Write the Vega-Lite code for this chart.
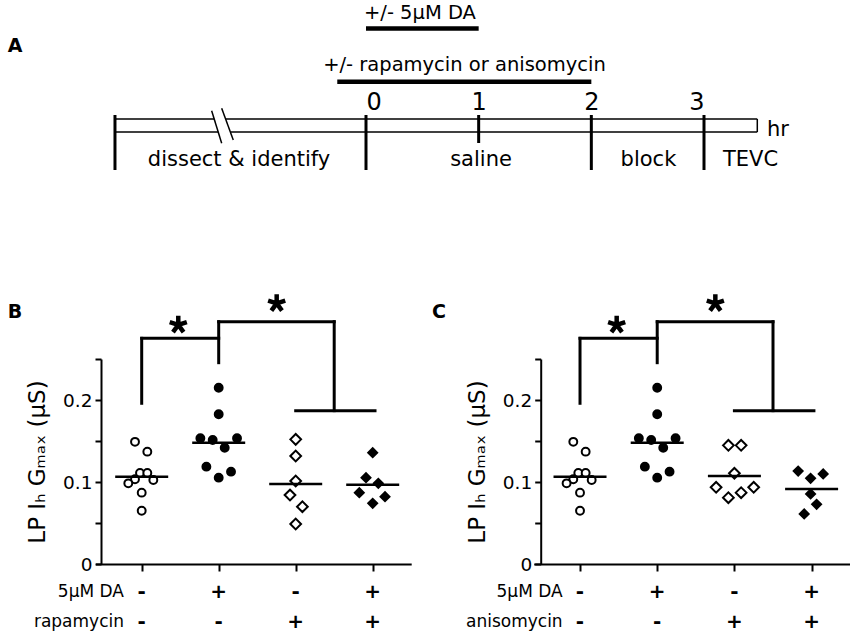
{
  "$schema": "https://vega.github.io/schema/vega-lite/v6.json",
  "width": 850,
  "height": 632,
  "padding": 0,
  "autosize": {"type": "none"},
  "background": "white",
  "config": {
    "view": {"stroke": null},
    "font": "DejaVu Sans",
    "axis": {"domainColor": "black", "tickColor": "black", "labelColor": "black", "titleColor": "black", "grid": false, "labelFont": "DejaVu Sans", "titleFont": "DejaVu Sans", "domainWidth": 2, "tickWidth": 2}
  },
  "datasets": {
    "tl": [
      {"h1": -2.228, "h2": -1.347, "u1": 0, "u2": 0},
      {"h1": -1.246, "h2": 3.473, "u1": 0, "u2": 0},
      {"h1": -2.228, "h2": -1.312, "u1": 1, "u2": 1},
      {"h1": -1.204, "h2": 3.473, "u1": 1, "u2": 1},
      {"h1": 3.473, "h2": 3.473, "u1": 0, "u2": 1},
      {"h1": -1.37, "h2": -1.281, "u1": -0.638, "u2": 1.869},
      {"h1": -1.281, "h2": -1.178, "u1": -0.823, "u2": 1.615}
    ],
    "ticksA": [
      {"h": -2.228, "u1": -0.308, "u2": 3.923},
      {"h": 0, "u1": -0.308, "u2": 3.923},
      {"h": 1, "u1": -0.308, "u2": 1.846},
      {"h": 2, "u1": -0.308, "u2": 3.923},
      {"h": 3, "u1": -0.308, "u2": 3.923}
    ],
    "barsA": [
      {"h1": 0, "h2": 1, "u": -6.96},
      {"h1": -0.255, "h2": 2.0, "u": -2.87}
    ],
    "treat": [
      {"h": 0.479, "u": -7.73, "t": "+/- 5μM DA"},
      {"h": 0.874, "u": -3.715, "t": "+/- rapamycin or anisomycin"}
    ],
    "phase": [
      {"h": -1.127, "t": "dissect & identify"},
      {"h": 1.021, "t": "saline"},
      {"h": 2.507, "t": "block"},
      {"h": 3.413, "t": "TEVC"}
    ],
    "pts": [
      {"panel": "B", "group": 1, "pos": 0.913, "v": 0.149},
      {"panel": "B", "group": 1, "pos": 1.073, "v": 0.137},
      {"panel": "B", "group": 1, "pos": 0.978, "v": 0.111},
      {"panel": "B", "group": 1, "pos": 1.073, "v": 0.111},
      {"panel": "B", "group": 1, "pos": 0.913, "v": 0.1033},
      {"panel": "B", "group": 1, "pos": 1.151, "v": 0.1024},
      {"panel": "B", "group": 1, "pos": 0.826, "v": 0.0984},
      {"panel": "B", "group": 1, "pos": 1.0, "v": 0.087},
      {"panel": "B", "group": 1, "pos": 1.0, "v": 0.065},
      {"panel": "B", "group": 2, "pos": 2.0, "v": 0.215},
      {"panel": "B", "group": 2, "pos": 2.0, "v": 0.1826},
      {"panel": "B", "group": 2, "pos": 1.762, "v": 0.1533},
      {"panel": "B", "group": 2, "pos": 1.922, "v": 0.1512},
      {"panel": "B", "group": 2, "pos": 2.238, "v": 0.1533},
      {"panel": "B", "group": 2, "pos": 2.078, "v": 0.1418},
      {"panel": "B", "group": 2, "pos": 1.84, "v": 0.1187},
      {"panel": "B", "group": 2, "pos": 2.16, "v": 0.1126},
      {"panel": "B", "group": 2, "pos": 2.0, "v": 0.1053},
      {"panel": "B", "group": 3, "pos": 3.0, "v": 0.152},
      {"panel": "B", "group": 3, "pos": 3.0, "v": 0.1317},
      {"panel": "B", "group": 3, "pos": 3.0, "v": 0.1012},
      {"panel": "B", "group": 3, "pos": 2.926, "v": 0.0841},
      {"panel": "B", "group": 3, "pos": 3.087, "v": 0.0699},
      {"panel": "B", "group": 3, "pos": 3.0, "v": 0.0488},
      {"panel": "B", "group": 4, "pos": 4.0, "v": 0.1358},
      {"panel": "B", "group": 4, "pos": 3.913, "v": 0.1053},
      {"panel": "B", "group": 4, "pos": 4.073, "v": 0.0984},
      {"panel": "B", "group": 4, "pos": 3.826, "v": 0.087},
      {"panel": "B", "group": 4, "pos": 4.16, "v": 0.0821},
      {"panel": "B", "group": 4, "pos": 4.0, "v": 0.074},
      {"panel": "C", "group": 1, "pos": 0.913, "v": 0.149},
      {"panel": "C", "group": 1, "pos": 1.073, "v": 0.137},
      {"panel": "C", "group": 1, "pos": 0.978, "v": 0.111},
      {"panel": "C", "group": 1, "pos": 1.073, "v": 0.111},
      {"panel": "C", "group": 1, "pos": 0.913, "v": 0.1033},
      {"panel": "C", "group": 1, "pos": 1.151, "v": 0.1024},
      {"panel": "C", "group": 1, "pos": 0.826, "v": 0.0984},
      {"panel": "C", "group": 1, "pos": 1.0, "v": 0.087},
      {"panel": "C", "group": 1, "pos": 1.0, "v": 0.065},
      {"panel": "C", "group": 2, "pos": 2.0, "v": 0.215},
      {"panel": "C", "group": 2, "pos": 2.0, "v": 0.1826},
      {"panel": "C", "group": 2, "pos": 1.762, "v": 0.1533},
      {"panel": "C", "group": 2, "pos": 1.922, "v": 0.1512},
      {"panel": "C", "group": 2, "pos": 2.238, "v": 0.1533},
      {"panel": "C", "group": 2, "pos": 2.078, "v": 0.1418},
      {"panel": "C", "group": 2, "pos": 1.84, "v": 0.1187},
      {"panel": "C", "group": 2, "pos": 2.16, "v": 0.1126},
      {"panel": "C", "group": 2, "pos": 2.0, "v": 0.1053},
      {"panel": "C", "group": 3, "pos": 2.922, "v": 0.1447},
      {"panel": "C", "group": 3, "pos": 3.087, "v": 0.1447},
      {"panel": "C", "group": 3, "pos": 3.0, "v": 0.1106},
      {"panel": "C", "group": 3, "pos": 2.763, "v": 0.0935},
      {"panel": "C", "group": 3, "pos": 3.25, "v": 0.0935},
      {"panel": "C", "group": 3, "pos": 2.922, "v": 0.0809},
      {"panel": "C", "group": 3, "pos": 3.087, "v": 0.087},
      {"panel": "C", "group": 4, "pos": 3.826, "v": 0.1134},
      {"panel": "C", "group": 4, "pos": 3.987, "v": 0.1045},
      {"panel": "C", "group": 4, "pos": 4.15, "v": 0.1098},
      {"panel": "C", "group": 4, "pos": 3.987, "v": 0.0854},
      {"panel": "C", "group": 4, "pos": 4.065, "v": 0.0728},
      {"panel": "C", "group": 4, "pos": 3.904, "v": 0.061}
    ],
    "meds": [
      {"panel": "B", "group": 1, "med": 0.1065},
      {"panel": "B", "group": 2, "med": 0.148},
      {"panel": "B", "group": 3, "med": 0.0976},
      {"panel": "B", "group": 4, "med": 0.0967},
      {"panel": "C", "group": 1, "med": 0.1065},
      {"panel": "C", "group": 2, "med": 0.148},
      {"panel": "C", "group": 3, "med": 0.1073},
      {"panel": "C", "group": 4, "med": 0.0915}
    ],
    "brk": [
      {"x1": 1, "x2": 1, "y1": 0.196, "y2": 0.2752},
      {"x1": 1, "x2": 2, "y1": 0.2752, "y2": 0.2752},
      {"x1": 2, "x2": 2, "y1": 0.2455, "y2": 0.2955},
      {"x1": 2, "x2": 3.5, "y1": 0.2955, "y2": 0.2955},
      {"x1": 3.5, "x2": 3.5, "y1": 0.2955, "y2": 0.187},
      {"x1": 3.0, "x2": 4.03, "y1": 0.187, "y2": 0.187}
    ],
    "stars": [
      {"pos": 1.475, "v": 0.2917},
      {"pos": 2.753, "v": 0.3179}
    ],
    "conds": [
      {"group": 1, "da": "-", "drug": "-"},
      {"group": 2, "da": "+", "drug": "-"},
      {"group": 3, "da": "-", "drug": "+"},
      {"group": 4, "da": "+", "drug": "+"}
    ],
    "rowlab": [
      {"panel": "B", "row": 1, "t": "5μM DA"},
      {"panel": "B", "row": 2, "t": "rapamycin"},
      {"panel": "C", "row": 1, "t": "5μM DA"},
      {"panel": "C", "row": 2, "t": "anisomycin"}
    ],
    "letters": [
      {"panel": "A", "t": "A"},
      {"panel": "B", "t": "B"},
      {"panel": "C", "t": "C"}
    ]
  },
  "resolve": {
    "scale": {"x": "independent", "y": "independent"},
    "axis": {"x": "independent", "y": "independent"}
  },
  "layer": [
    {
      "data": {"name": "tl"},
      "mark": {"type": "rule", "color": "black", "strokeWidth": 1.5},
      "encoding": {
        "x": {"field": "h1", "type": "quantitative", "scale": {"domain": [0, 3], "range": [366, 704], "nice": false, "zero": false},
          "axis": {"orient": "top", "offset": -119, "values": [0, 1, 2, 3], "domain": false, "ticks": false, "tickSize": 0, "labelPadding": 9.7, "labelBaseline": "alphabetic", "labelFontSize": 24, "labelAngle": 0, "format": "d", "title": null, "grid": false}},
        "x2": {"field": "h2"},
        "y": {"field": "u1", "type": "quantitative", "scale": {"domain": [0, 1], "range": [119, 132], "nice": false, "zero": false}, "axis": null},
        "y2": {"field": "u2"}
      }
    },
    {
      "data": {"name": "ticksA"},
      "mark": {"type": "rule", "color": "black", "strokeWidth": 3},
      "encoding": {
        "x": {"field": "h", "type": "quantitative", "scale": {"domain": [0, 3], "range": [366, 704], "nice": false, "zero": false}, "axis": null},
        "y": {"field": "u1", "type": "quantitative", "scale": {"domain": [0, 1], "range": [119, 132], "nice": false, "zero": false}, "axis": null},
        "y2": {"field": "u2"}
      }
    },
    {
      "data": {"name": "barsA"},
      "mark": {"type": "rule", "color": "black", "strokeWidth": 4.5},
      "encoding": {
        "x": {"field": "h1", "type": "quantitative", "scale": {"domain": [0, 3], "range": [366, 704], "nice": false, "zero": false}, "axis": null},
        "x2": {"field": "h2"},
        "y": {"field": "u", "type": "quantitative", "scale": {"domain": [0, 1], "range": [119, 132], "nice": false, "zero": false}, "axis": null}
      }
    },
    {
      "data": {"name": "treat"},
      "mark": {"type": "text", "font": "DejaVu Sans", "fontSize": 19.5, "align": "center", "baseline": "alphabetic", "color": "black"},
      "encoding": {
        "x": {"field": "h", "type": "quantitative", "scale": {"domain": [0, 3], "range": [366, 704], "nice": false, "zero": false}, "axis": null},
        "y": {"field": "u", "type": "quantitative", "scale": {"domain": [0, 1], "range": [119, 132], "nice": false, "zero": false}, "axis": null},
        "text": {"field": "t"}
      }
    },
    {
      "data": {"name": "phase"},
      "mark": {"type": "text", "font": "DejaVu Sans", "fontSize": 21, "align": "center", "baseline": "alphabetic", "color": "black"},
      "encoding": {
        "x": {"field": "h", "type": "quantitative", "scale": {"domain": [0, 3], "range": [366, 704], "nice": false, "zero": false}, "axis": null},
        "y": {"datum": 3.615, "type": "quantitative", "scale": {"domain": [0, 1], "range": [119, 132], "nice": false, "zero": false}, "axis": null},
        "text": {"field": "t"}
      }
    },
    {
      "data": {"values": [{"t": "hr"}]},
      "mark": {"type": "text", "font": "DejaVu Sans", "fontSize": 21, "align": "left", "baseline": "alphabetic", "color": "black"},
      "encoding": {
        "x": {"datum": 3.559, "type": "quantitative", "scale": {"domain": [0, 3], "range": [366, 704], "nice": false, "zero": false}, "axis": null},
        "y": {"datum": 1.308, "type": "quantitative", "scale": {"domain": [0, 1], "range": [119, 132], "nice": false, "zero": false}, "axis": null},
        "text": {"field": "t"}
      }
    },
    {
      "data": {"name": "letters"},
      "transform": [{"filter": "datum.panel == 'A'"}],
      "mark": {"type": "text", "font": "DejaVu Sans", "fontSize": 19, "fontWeight": "bold", "align": "center", "baseline": "alphabetic", "color": "black"},
      "encoding": {
        "x": {"datum": -3.115, "type": "quantitative", "scale": {"domain": [0, 3], "range": [366, 704], "nice": false, "zero": false}, "axis": null},
        "y": {"datum": -5.154, "type": "quantitative", "scale": {"domain": [0, 1], "range": [119, 132], "nice": false, "zero": false}, "axis": null},
        "text": {"field": "t"}
      }
    },
    {
      "data": {"name": "pts"},
      "transform": [{"filter": "datum.panel == 'B'"}],
      "mark": {"type": "point", "filled": true, "stroke": "black", "strokeWidth": 2, "opacity": 1},
      "encoding": {
        "x": {"field": "pos", "type": "quantitative", "scale": {"domain": [0.4, 4.5], "range": [95.5, 411.2], "nice": false, "zero": false},
          "axis": {"orient": "bottom", "offset": -68, "values": [1, 2, 3, 4], "labels": false, "tickSize": 7, "tickWidth": 2, "domainWidth": 2, "title": null, "grid": false}},
        "y": {"field": "v", "type": "quantitative", "scale": {"domain": [0, 0.25], "range": [564, 359], "nice": false, "zero": false},
          "axis": {"orient": "left", "offset": -101, "values": [0, 0.05, 0.1, 0.15, 0.2, 0.25], "labelExpr": "datum.value == 0 ? '0' : (datum.value > 0.09 && datum.value < 0.11) ? '0.1' : (datum.value > 0.19 && datum.value < 0.21) ? '0.2' : ''", "tickSize": 6, "tickWidth": 2, "domainWidth": 2, "labelFontSize": 18.5, "labelPadding": 3, "title": "LP Iₕ Gₘₐₓ (μS)", "titleFontSize": 23, "titleFontWeight": "normal", "titlePadding": 13, "grid": false}},
        "shape": {"field": "group", "type": "nominal", "scale": {"domain": [1, 2, 3, 4], "range": ["circle", "circle", "diamond", "diamond"]}, "legend": null},
        "fill": {"field": "group", "type": "nominal", "scale": {"domain": [1, 2, 3, 4], "range": ["white", "black", "white", "black"]}, "legend": null},
        "size": {"field": "group", "type": "nominal", "scale": {"type": "ordinal", "domain": [1, 2, 3, 4], "range": [62, 62, 115, 80]}, "legend": null}
      }
    },
    {
      "data": {"name": "meds"},
      "transform": [{"filter": "datum.panel == 'B'"}],
      "mark": {"type": "tick", "orient": "horizontal", "size": 53, "thickness": 2.5, "color": "black", "opacity": 1},
      "encoding": {
        "x": {"field": "group", "type": "quantitative", "scale": {"domain": [0.4, 4.5], "range": [95.5, 411.2], "nice": false, "zero": false}, "axis": null},
        "y": {"field": "med", "type": "quantitative", "scale": {"domain": [0, 0.25], "range": [564, 359], "nice": false, "zero": false}, "axis": null}
      }
    },
    {
      "data": {"name": "brk"},
      "mark": {"type": "rule", "color": "black", "strokeWidth": 3, "strokeCap": "square"},
      "encoding": {
        "x": {"field": "x1", "type": "quantitative", "scale": {"domain": [0.4, 4.5], "range": [95.5, 411.2], "nice": false, "zero": false}, "axis": null},
        "x2": {"field": "x2"},
        "y": {"field": "y1", "type": "quantitative", "scale": {"domain": [0, 0.25], "range": [564, 359], "nice": false, "zero": false}, "axis": null},
        "y2": {"field": "y2"}
      }
    },
    {
      "data": {"name": "stars"},
      "mark": {"type": "point", "shape": "M0,0L0,-1M0,0L0.951,-0.309M0,0L0.588,0.809M0,0L-0.588,0.809M0,0L-0.951,-0.309", "size": 324, "filled": false, "stroke": "black", "strokeWidth": 4.5, "opacity": 1},
      "encoding": {
        "x": {"field": "pos", "type": "quantitative", "scale": {"domain": [0.4, 4.5], "range": [95.5, 411.2], "nice": false, "zero": false}, "axis": null},
        "y": {"field": "v", "type": "quantitative", "scale": {"domain": [0, 0.25], "range": [564, 359], "nice": false, "zero": false}, "axis": null}
      }
    },
    {
      "data": {"name": "conds"},
      "mark": {"type": "text", "font": "DejaVu Sans", "fontSize": 20, "fontWeight": "bold", "align": "center", "baseline": "middle", "color": "black"},
      "encoding": {
        "x": {"field": "group", "type": "quantitative", "scale": {"domain": [0.4, 4.5], "range": [95.5, 411.2], "nice": false, "zero": false}, "axis": null},
        "y": {"datum": -0.034, "type": "quantitative", "scale": {"domain": [0, 0.25], "range": [564, 359], "nice": false, "zero": false}, "axis": null},
        "text": {"field": "da"}
      }
    },
    {
      "data": {"name": "conds"},
      "mark": {"type": "text", "font": "DejaVu Sans", "fontSize": 20, "fontWeight": "bold", "align": "center", "baseline": "middle", "color": "black"},
      "encoding": {
        "x": {"field": "group", "type": "quantitative", "scale": {"domain": [0.4, 4.5], "range": [95.5, 411.2], "nice": false, "zero": false}, "axis": null},
        "y": {"datum": -0.0707, "type": "quantitative", "scale": {"domain": [0, 0.25], "range": [564, 359], "nice": false, "zero": false}, "axis": null},
        "text": {"field": "drug"}
      }
    },
    {
      "data": {"name": "rowlab"},
      "transform": [{"filter": "datum.panel == 'B' && datum.row == 1"}],
      "mark": {"type": "text", "font": "DejaVu Sans", "fontSize": 17, "align": "right", "baseline": "middle", "color": "black"},
      "encoding": {
        "x": {"datum": 0.77, "type": "quantitative", "scale": {"domain": [0.4, 4.5], "range": [95.5, 411.2], "nice": false, "zero": false}, "axis": null},
        "y": {"datum": -0.034, "type": "quantitative", "scale": {"domain": [0, 0.25], "range": [564, 359], "nice": false, "zero": false}, "axis": null},
        "text": {"field": "t"}
      }
    },
    {
      "data": {"name": "rowlab"},
      "transform": [{"filter": "datum.panel == 'B' && datum.row == 2"}],
      "mark": {"type": "text", "font": "DejaVu Sans", "fontSize": 17, "align": "right", "baseline": "middle", "color": "black"},
      "encoding": {
        "x": {"datum": 0.77, "type": "quantitative", "scale": {"domain": [0.4, 4.5], "range": [95.5, 411.2], "nice": false, "zero": false}, "axis": null},
        "y": {"datum": -0.0707, "type": "quantitative", "scale": {"domain": [0, 0.25], "range": [564, 359], "nice": false, "zero": false}, "axis": null},
        "text": {"field": "t"}
      }
    },
    {
      "data": {"name": "letters"},
      "transform": [{"filter": "datum.panel == 'B'"}],
      "mark": {"type": "text", "font": "DejaVu Sans", "fontSize": 19, "fontWeight": "bold", "align": "center", "baseline": "alphabetic", "color": "black"},
      "encoding": {
        "x": {"datum": -0.645, "type": "quantitative", "scale": {"domain": [0.4, 4.5], "range": [95.5, 411.2], "nice": false, "zero": false}, "axis": null},
        "y": {"datum": 0.3, "type": "quantitative", "scale": {"domain": [0, 0.25], "range": [564, 359], "nice": false, "zero": false}, "axis": null},
        "text": {"field": "t"}
      }
    },
    {
      "data": {"name": "pts"},
      "transform": [{"filter": "datum.panel == 'C'"}],
      "mark": {"type": "point", "filled": true, "stroke": "black", "strokeWidth": 2, "opacity": 1},
      "encoding": {
        "x": {"field": "pos", "type": "quantitative", "scale": {"domain": [0.4, 4.5], "range": [533.7, 850.2], "nice": false, "zero": false},
          "axis": {"orient": "bottom", "offset": -68, "values": [1, 2, 3, 4], "labels": false, "tickSize": 7, "tickWidth": 2, "domainWidth": 2, "title": null, "grid": false}},
        "y": {"field": "v", "type": "quantitative", "scale": {"domain": [0, 0.25], "range": [564, 359], "nice": false, "zero": false},
          "axis": {"orient": "left", "offset": -540.7, "values": [0, 0.05, 0.1, 0.15, 0.2, 0.25], "labelExpr": "datum.value == 0 ? '0' : (datum.value > 0.09 && datum.value < 0.11) ? '0.1' : (datum.value > 0.19 && datum.value < 0.21) ? '0.2' : ''", "tickSize": 6, "tickWidth": 2, "domainWidth": 2, "labelFontSize": 18.5, "labelPadding": 3, "title": "LP Iₕ Gₘₐₓ (μS)", "titleFontSize": 23, "titleFontWeight": "normal", "titlePadding": 13, "grid": false}},
        "shape": {"field": "group", "type": "nominal", "scale": {"domain": [1, 2, 3, 4], "range": ["circle", "circle", "diamond", "diamond"]}, "legend": null},
        "fill": {"field": "group", "type": "nominal", "scale": {"domain": [1, 2, 3, 4], "range": ["white", "black", "white", "black"]}, "legend": null},
        "size": {"field": "group", "type": "nominal", "scale": {"type": "ordinal", "domain": [1, 2, 3, 4], "range": [62, 62, 115, 80]}, "legend": null}
      }
    },
    {
      "data": {"name": "meds"},
      "transform": [{"filter": "datum.panel == 'C'"}],
      "mark": {"type": "tick", "orient": "horizontal", "size": 53, "thickness": 2.5, "color": "black", "opacity": 1},
      "encoding": {
        "x": {"field": "group", "type": "quantitative", "scale": {"domain": [0.4, 4.5], "range": [533.7, 850.2], "nice": false, "zero": false}, "axis": null},
        "y": {"field": "med", "type": "quantitative", "scale": {"domain": [0, 0.25], "range": [564, 359], "nice": false, "zero": false}, "axis": null}
      }
    },
    {
      "data": {"name": "brk"},
      "mark": {"type": "rule", "color": "black", "strokeWidth": 3, "strokeCap": "square"},
      "encoding": {
        "x": {"field": "x1", "type": "quantitative", "scale": {"domain": [0.4, 4.5], "range": [533.7, 850.2], "nice": false, "zero": false}, "axis": null},
        "x2": {"field": "x2"},
        "y": {"field": "y1", "type": "quantitative", "scale": {"domain": [0, 0.25], "range": [564, 359], "nice": false, "zero": false}, "axis": null},
        "y2": {"field": "y2"}
      }
    },
    {
      "data": {"name": "stars"},
      "mark": {"type": "point", "shape": "M0,0L0,-1M0,0L0.951,-0.309M0,0L0.588,0.809M0,0L-0.588,0.809M0,0L-0.951,-0.309", "size": 324, "filled": false, "stroke": "black", "strokeWidth": 4.5, "opacity": 1},
      "encoding": {
        "x": {"field": "pos", "type": "quantitative", "scale": {"domain": [0.4, 4.5], "range": [533.7, 850.2], "nice": false, "zero": false}, "axis": null},
        "y": {"field": "v", "type": "quantitative", "scale": {"domain": [0, 0.25], "range": [564, 359], "nice": false, "zero": false}, "axis": null}
      }
    },
    {
      "data": {"name": "conds"},
      "mark": {"type": "text", "font": "DejaVu Sans", "fontSize": 20, "fontWeight": "bold", "align": "center", "baseline": "middle", "color": "black"},
      "encoding": {
        "x": {"field": "group", "type": "quantitative", "scale": {"domain": [0.4, 4.5], "range": [533.7, 850.2], "nice": false, "zero": false}, "axis": null},
        "y": {"datum": -0.034, "type": "quantitative", "scale": {"domain": [0, 0.25], "range": [564, 359], "nice": false, "zero": false}, "axis": null},
        "text": {"field": "da"}
      }
    },
    {
      "data": {"name": "conds"},
      "mark": {"type": "text", "font": "DejaVu Sans", "fontSize": 20, "fontWeight": "bold", "align": "center", "baseline": "middle", "color": "black"},
      "encoding": {
        "x": {"field": "group", "type": "quantitative", "scale": {"domain": [0.4, 4.5], "range": [533.7, 850.2], "nice": false, "zero": false}, "axis": null},
        "y": {"datum": -0.0707, "type": "quantitative", "scale": {"domain": [0, 0.25], "range": [564, 359], "nice": false, "zero": false}, "axis": null},
        "text": {"field": "drug"}
      }
    },
    {
      "data": {"name": "rowlab"},
      "transform": [{"filter": "datum.panel == 'C' && datum.row == 1"}],
      "mark": {"type": "text", "font": "DejaVu Sans", "fontSize": 17, "align": "right", "baseline": "middle", "color": "black"},
      "encoding": {
        "x": {"datum": 0.775, "type": "quantitative", "scale": {"domain": [0.4, 4.5], "range": [533.7, 850.2], "nice": false, "zero": false}, "axis": null},
        "y": {"datum": -0.034, "type": "quantitative", "scale": {"domain": [0, 0.25], "range": [564, 359], "nice": false, "zero": false}, "axis": null},
        "text": {"field": "t"}
      }
    },
    {
      "data": {"name": "rowlab"},
      "transform": [{"filter": "datum.panel == 'C' && datum.row == 2"}],
      "mark": {"type": "text", "font": "DejaVu Sans", "fontSize": 17, "align": "right", "baseline": "middle", "color": "black"},
      "encoding": {
        "x": {"datum": 0.775, "type": "quantitative", "scale": {"domain": [0.4, 4.5], "range": [533.7, 850.2], "nice": false, "zero": false}, "axis": null},
        "y": {"datum": -0.0707, "type": "quantitative", "scale": {"domain": [0, 0.25], "range": [564, 359], "nice": false, "zero": false}, "axis": null},
        "text": {"field": "t"}
      }
    },
    {
      "data": {"name": "letters"},
      "transform": [{"filter": "datum.panel == 'C'"}],
      "mark": {"type": "text", "font": "DejaVu Sans", "fontSize": 19, "fontWeight": "bold", "align": "center", "baseline": "alphabetic", "color": "black"},
      "encoding": {
        "x": {"datum": -0.826, "type": "quantitative", "scale": {"domain": [0.4, 4.5], "range": [533.7, 850.2], "nice": false, "zero": false}, "axis": null},
        "y": {"datum": 0.3, "type": "quantitative", "scale": {"domain": [0, 0.25], "range": [564, 359], "nice": false, "zero": false}, "axis": null},
        "text": {"field": "t"}
      }
    }
  ]
}
